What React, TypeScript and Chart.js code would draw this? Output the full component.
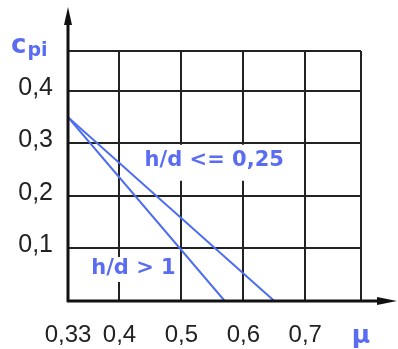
import { useEffect, useRef } from 'react';
import { Chart, registerables, LinearScale } from 'chart.js';

// ---- data ----
const xTickValues = [0.33, 0.4, 0.5, 0.6, 0.7, 0.79];
const xTickLabels = ['0,33', '0,4', '0,5', '0,6', '0,7', 'μ'];
const yTickValues = [0, 0.1, 0.2, 0.3, 0.4, 0.476];
const yTickLabels = ['', '0,1', '0,2', '0,3', '0,4', ''];
const seriesNames = ['h/d <= 0,25', 'h/d > 1'];
const muLowRatio = [0.33, 0.65];
const cpiLowRatio = [0.35, 0];
const muHighRatio = [0.33, 0.57];
const cpiHighRatio = [0.35, 0];

// ---- style ----
const BLUE_LINE = '#4c6cf0';
const BLUE_TEXT = '#5a6cf2';
const INK = '#222222';
const LABEL_ANCHORS = [
  { x: 0.553, y: 0.267, padTop: 8, padBottom: 12 },
  { x: 0.4226, y: 0.061, padTop: 4, padBottom: 5 },
];

// the original axis is stretched between 0,33 and 0,4
const STRETCH_FROM = 0.4;
const STRETCH = 1.187;
const warp = (v: number) => (v >= STRETCH_FROM ? v : STRETCH_FROM - (STRETCH_FROM - v) * STRETCH);
const unwarp = (w: number) => (w >= STRETCH_FROM ? w : STRETCH_FROM - (STRETCH_FROM - w) / STRETCH);

class StretchedScale extends LinearScale {
  static id = 'stretched';
  static defaults = {};
  configure() {
    super.configure();
    const s = warp((this as any).min);
    const e = warp((this as any).max);
    (this as any)._startValue = s;
    (this as any)._endValue = e;
    (this as any)._valueRange = e - s;
  }
  getPixelForValue(v: any) {
    if (v === null || v === undefined) return NaN;
    return super.getPixelForValue(warp(v));
  }
  getValueForPixel(p: number) {
    return unwarp(super.getValueForPixel(p) as number);
  }
}

Chart.register(...registerables, StretchedScale);

const axesPlugin = {
  id: 'axesArrows',
  beforeDatasetsDraw(chart: any) {
    const ctx = chart.ctx;
    const x = chart.scales.x;
    const y = chart.scales.y;
    // white boxes + curve labels
    ctx.save();
    ctx.font = "bold 21px 'DejaVu Sans'";
    ctx.textAlign = 'center';
    ctx.textBaseline = 'middle';
    seriesNames.forEach((name, i) => {
      const a = LABEL_ANCHORS[i];
      const cx = x.getPixelForValue(a.x);
      const cy = y.getPixelForValue(a.y);
      const w = ctx.measureText(name).width;
      ctx.fillStyle = '#ffffff';
      ctx.fillRect(cx - w / 2 - 3, cy - 8 - a.padTop, w + 6, 16 + a.padTop + a.padBottom);
      ctx.fillStyle = BLUE_TEXT;
      ctx.fillText(name, cx, cy);
    });
    ctx.restore();
  },
  afterDatasetsDraw(chart: any) {
    const ctx = chart.ctx;
    const { left, bottom } = chart.chartArea;
    ctx.save();
    ctx.strokeStyle = '#111';
    ctx.fillStyle = '#111';
    ctx.lineWidth = 3;
    ctx.beginPath();
    ctx.moveTo(left, bottom + 1);
    ctx.lineTo(left, 22);
    ctx.stroke();
    ctx.beginPath();
    ctx.moveTo(left - 1, bottom);
    ctx.lineTo(chart.width - 18, bottom);
    ctx.stroke();
    // arrow heads
    ctx.beginPath();
    ctx.moveTo(left, 7);
    ctx.lineTo(left - 4, 25);
    ctx.lineTo(left + 4, 25);
    ctx.closePath();
    ctx.fill();
    ctx.beginPath();
    ctx.moveTo(chart.width - 1, bottom);
    ctx.lineTo(chart.width - 21, bottom - 4);
    ctx.lineTo(chart.width - 21, bottom + 4);
    ctx.closePath();
    ctx.fill();
    // c_pi axis title
    ctx.fillStyle = BLUE_TEXT;
    ctx.textAlign = 'left';
    ctx.textBaseline = 'alphabetic';
    ctx.font = "bold 26px 'DejaVu Sans'";
    ctx.fillText('c', 11, 53);
    const cw = ctx.measureText('c').width;
    ctx.font = "bold 19px 'DejaVu Sans'";
    ctx.fillText('pi', 11 + cw + 1, 56);
    ctx.restore();
  },
};

export default function App() {
  const ref = useRef<HTMLCanvasElement | null>(null);
  useEffect(() => {
    if (!ref.current) return;
    const chart = new Chart(ref.current, {
      type: 'line',
      data: {
        datasets: [
          {
            label: seriesNames[0],
            data: muLowRatio.map((m, i) => ({ x: m, y: cpiLowRatio[i] })),
            borderColor: BLUE_LINE,
            borderWidth: 2,
            pointRadius: 0,
            tension: 0,
          },
          {
            label: seriesNames[1],
            data: muHighRatio.map((m, i) => ({ x: m, y: cpiHighRatio[i] })),
            borderColor: BLUE_LINE,
            borderWidth: 2,
            pointRadius: 0,
            tension: 0,
          },
        ],
      },
      options: {
        animation: false,
        responsive: true,
        maintainAspectRatio: false,
        events: [],
        layout: { padding: { left: 0, right: 37, top: 51, bottom: 0 } },
        plugins: { legend: { display: false }, tooltip: { enabled: false } },
        scales: {
          x: {
            type: 'stretched' as any,
            min: 0.33,
            max: 0.79,
            afterBuildTicks: (s: any) => {
              s.ticks = xTickValues.map((v) => ({ value: v }));
            },
            afterFit: (s: any) => {
              s.height = 48;
            },
            border: { display: false },
            grid: { color: INK, lineWidth: 2, drawTicks: false },
            ticks: {
              autoSkip: false,
              maxRotation: 0,
              padding: 20,
              callback: (_v: any, i: number) => xTickLabels[i],
              color: (c: any) => (c.index === xTickLabels.length - 1 ? BLUE_TEXT : INK),
              font: (c: any) =>
                c.index === xTickLabels.length - 1
                  ? { family: "'DejaVu Sans'", size: 25, weight: 'bold' }
                  : { family: "'Liberation Sans', Arial", size: 24 },
            },
          },
          y: {
            type: 'linear',
            min: 0,
            max: 0.476,
            afterBuildTicks: (s: any) => {
              s.ticks = yTickValues.map((v) => ({ value: v }));
            },
            afterFit: (s: any) => {
              s.width = 68;
            },
            border: { display: false },
            grid: { color: INK, lineWidth: 2, drawTicks: false },
            ticks: {
              autoSkip: false,
              padding: 15,
              labelOffset: -3,
              callback: (_v: any, i: number) => yTickLabels[i],
              color: INK,
              font: { family: "'Liberation Sans', Arial", size: 25 },
            },
          },
        },
      },
      plugins: [axesPlugin],
    });
    return () => chart.destroy();
  }, []);
  return (
    <div style={{ position: 'fixed', left: 0, top: 0, width: 398, height: 349, background: '#fff' }}>
      <canvas ref={ref} />
    </div>
  );
}
